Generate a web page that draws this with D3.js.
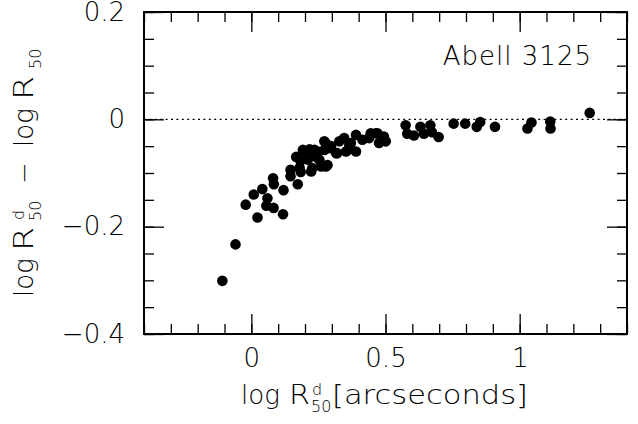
<!DOCTYPE html>
<html>
<head>
<meta charset="utf-8">
<script src="https://cdn.jsdelivr.net/npm/d3@7"></script>
<style>
  body { margin: 0; background: #fff; }
  text { font-family: "DejaVu Sans", sans-serif; font-weight: 200; fill: #000; }
</style>
</head>
<body>
<div id="chart"></div>
<script>
// data: log R50(disk) vs difference
var logRd = [-0.108, -0.059, 0.023, -0.021, 0.009, 0.041, 0.060, 0.056, 0.083, 0.118,
             0.081, 0.084, 0.120, 0.146, 0.146, 0.173, 0.184, 0.167, 0.183, 0.198,
             0.217, 0.229, 0.227, 0.180, 0.192, 0.210, 0.223, 0.235, 0.247, 0.260,
             0.272, 0.284, 0.297, 0.316, 0.328, 0.346, 0.353, 0.371, 0.390, 0.390,
             0.414, 0.439, 0.464, 0.476, 0.494, 0.501, 0.247, 0.254, 0.278, 0.291,
             0.278, 0.272, 0.445, 0.470, 0.365, 0.320,
             0.575, 0.581, 0.606, 0.630, 0.643, 0.673, 0.667, 0.698, 0.754, 0.797,
             0.840, 0.853, 0.908, 1.029, 1.044, 1.114, 1.115, 1.261];
var dLogR = [-0.301, -0.233, -0.183, -0.159, -0.140, -0.130, -0.147, -0.161, -0.165, -0.177,
             -0.110, -0.121, -0.132, -0.094, -0.106, -0.121, -0.098, -0.070, -0.077, -0.060,
             -0.056, -0.068, -0.091, -0.090, -0.057, -0.075, -0.097, -0.057, -0.072, -0.088,
             -0.041, -0.085, -0.050, -0.063, -0.041, -0.035, -0.060, -0.044, -0.029, -0.060,
             -0.038, -0.035, -0.026, -0.044, -0.032, -0.041, -0.060, -0.076, -0.045, -0.054,
             -0.088, -0.057, -0.026, -0.026, -0.048, -0.063,
             -0.011, -0.027, -0.030, -0.014, -0.027, -0.024, -0.011, -0.033, -0.008, -0.008,
             -0.014, -0.005, -0.014, -0.017, -0.006, -0.004, -0.017, 0.012];

var xMajor = [0, 0.5, 1],
    xLabels = ["0", "0.5", "1"],
    xMinor = d3.range(-0.4, 1.4001, 0.1),
    yMajor = [-0.4, -0.2, 0, 0.2],
    yLabels = ["\u22120.4", "\u22120.2", "0", "0.2"],
    yMinor = d3.range(-0.4, 0.2001, 0.05);

var clusterName = "Abell 3125";

var width = 638, height = 424,
    box = {left: 144, right: 627, top: 12, bottom: 334};

var svg = d3.select("#chart").append("svg")
    .attr("width", width)
    .attr("height", height);

var x = d3.scaleLinear().domain([-0.4, 1.4]).range([box.left, box.right]),
    y = d3.scaleLinear().domain([-0.4, 0.2]).range([box.bottom, box.top]);

function style(g) {
  g.select(".domain").remove();
  g.selectAll("line").attr("stroke", "#000").attr("stroke-width", 1.3);
  g.selectAll("text").attr("font-size", 26).attr("fill", "#000")
   .attr("font-family", "DejaVu Sans").attr("font-weight", 200);
}

// bottom
svg.append("g").attr("transform", "translate(0," + box.bottom + ")")
   .call(d3.axisBottom(x).tickValues(xMinor).tickSize(-10).tickFormat("")).call(style);
svg.append("g").attr("transform", "translate(0," + box.bottom + ")")
   .call(d3.axisBottom(x).tickValues(xMajor).tickSize(-20).tickPadding(15)
     .tickFormat(function(d, i) { return xLabels[i]; })).call(style);
// top
svg.append("g").attr("transform", "translate(0," + box.top + ")")
   .call(d3.axisTop(x).tickValues(xMinor).tickSize(-10).tickFormat("")).call(style);
svg.append("g").attr("transform", "translate(0," + box.top + ")")
   .call(d3.axisTop(x).tickValues(xMajor).tickSize(-20).tickFormat("")).call(style);
// left
svg.append("g").attr("transform", "translate(" + box.left + ",0)")
   .call(d3.axisLeft(y).tickValues(yMinor).tickSize(-10).tickFormat("")).call(style);
svg.append("g").attr("transform", "translate(" + box.left + ",0)")
   .call(d3.axisLeft(y).tickValues(yMajor).tickSize(-20).tickPadding(19)
     .tickFormat(function(d, i) { return yLabels[i]; })).call(style);
// right
svg.append("g").attr("transform", "translate(" + box.right + ",0)")
   .call(d3.axisRight(y).tickValues(yMinor).tickSize(-10).tickFormat("")).call(style);
svg.append("g").attr("transform", "translate(" + box.right + ",0)")
   .call(d3.axisRight(y).tickValues(yMajor).tickSize(-20).tickFormat("")).call(style);

// frame
svg.append("rect")
   .attr("x", box.left).attr("y", box.top)
   .attr("width", box.right - box.left).attr("height", box.bottom - box.top)
   .attr("fill", "none").attr("stroke", "#000").attr("stroke-width", 2);

// zero line
svg.append("line")
   .attr("x1", box.left).attr("x2", box.right)
   .attr("y1", y(0)).attr("y2", y(0))
   .attr("stroke", "#000").attr("stroke-width", 1.2)
   .attr("stroke-dasharray", "2,3.4");

// points
svg.append("g").selectAll("circle")
   .data(logRd)
   .enter().append("circle")
   .attr("cx", function(d) { return x(d); })
   .attr("cy", function(d, i) { return y(dLogR[i]); })
   .attr("r", 5.3)
   .attr("fill", "#000");

// label
svg.append("text")
   .attr("x", 592).attr("y", 65)
   .attr("text-anchor", "end")
   .attr("font-size", 26)
   .attr("letter-spacing", 1)
   .text(clusterName);

// x title
var xt = svg.append("g").attr("font-size", 26);
xt.append("text").attr("x", 241).attr("y", 404).text("log");
xt.append("text").attr("x", 289).attr("y", 404).attr("textLength", 21)
   .attr("lengthAdjust", "spacingAndGlyphs").text("R");
xt.append("text").attr("x", 312).attr("y", 395).attr("font-size", 16).text("d");
xt.append("text").attr("x", 311).attr("y", 412).attr("font-size", 16).text("50");
xt.append("text").attr("x", 332).attr("y", 404).attr("textLength", 196)
   .attr("lengthAdjust", "spacingAndGlyphs").text("[arcseconds]");

// y title
var yt = svg.append("g").attr("transform", "translate(33,297) rotate(-90)")
   .attr("font-size", 26);
yt.append("text").attr("x", 0).attr("y", 0).text("log");
yt.append("text").attr("x", 46).attr("y", 0).attr("textLength", 24)
   .attr("lengthAdjust", "spacingAndGlyphs").text("R");
yt.append("text").attr("x", 77).attr("y", -9).attr("font-size", 16).text("d");
yt.append("text").attr("x", 76).attr("y", 8).attr("font-size", 16).text("50");
yt.append("text").attr("x", 113).attr("y", 0).text("\u2212");
yt.append("text").attr("x", 150).attr("y", 0).text("log");
yt.append("text").attr("x", 197).attr("y", 0).attr("textLength", 24)
   .attr("lengthAdjust", "spacingAndGlyphs").text("R");
yt.append("text").attr("x", 228).attr("y", 8).attr("font-size", 16).text("50");
</script>
</body>
</html>
